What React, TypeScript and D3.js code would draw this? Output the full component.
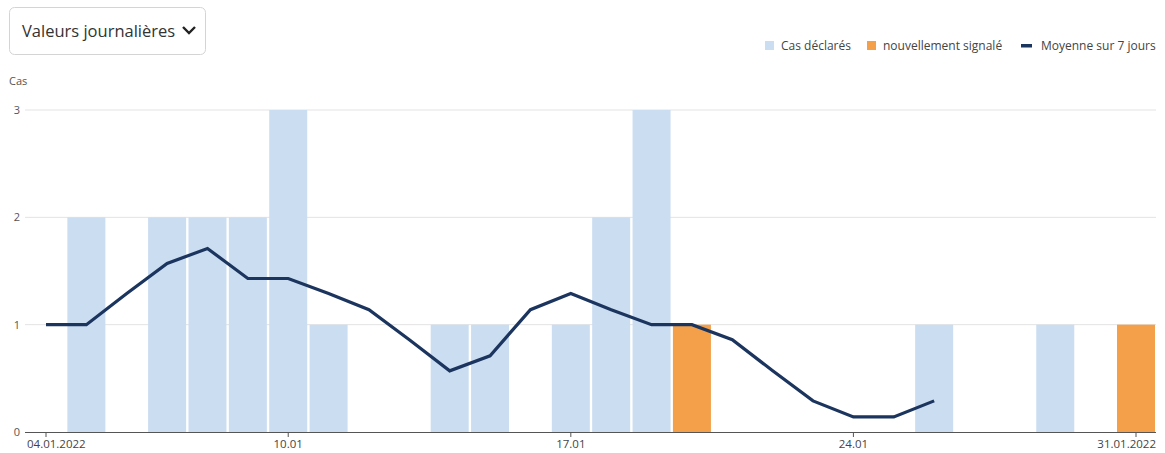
import React from "react";
import * as d3 from "d3";

const dates = ["04.01","05.01","06.01","07.01","08.01","09.01","10.01","11.01","12.01","13.01","14.01","15.01","16.01","17.01","18.01","19.01","20.01","21.01","22.01","23.01","24.01","25.01","26.01","27.01","28.01","29.01","30.01","31.01"];
const reported = [0,2,0,2,2,2,3,1,0,0,1,1,0,1,2,3,0,0,0,0,0,0,1,0,0,1,0,0];
const newlyReported = [0,0,0,0,0,0,0,0,0,0,0,0,0,0,0,0,1,0,0,0,0,0,0,0,0,0,0,1];
const avg7 = [1,1,1.29,1.57,1.71,1.43,1.43,1.29,1.14,0.86,0.57,0.71,1.14,1.29,1.14,1,1,0.86,0.57,0.29,0.14,0.14,0.29];
const xTicks = [{ i: 0, label: "04.01.2022" }, { i: 6, label: "10.01" }, { i: 13, label: "17.01" }, { i: 20, label: "24.01" }, { i: 27, label: "31.01.2022" }];
const yTicks = [0, 1, 2, 3];

const W = 1165, H = 453;
const FONT = "'Open Sans', 'Noto Sans', sans-serif";
const BLUE = "#cbddf1";
const ORANGE = "#f4a04b";
const NAVY = "#1c355e";

export default function App() {
  const x = d3.scaleLinear().domain([0, dates.length - 1]).range([46, 1136]);
  const y = d3.scaleLinear().domain([0, 3]).range([432, 110]);
  const bw = 38;
  const line = d3.line<number>().x((_, i) => x(i)).y(d => y(d));
  const last = dates.length - 1;

  return (
    <svg width={W} height={H} style={{ position: "absolute", left: 0, top: 0, fontFamily: FONT }}>
      <rect x={0} y={0} width={W} height={H} fill="#fff" />
      {/* dropdown */}
      <rect x={9.5} y={7.5} width={196} height={47} rx={5} fill="#fff" stroke="#d4d4d4" />
      <text x={22} y={37} fontSize={16.5} fill="#333">Valeurs journalières</text>
      <path d="M183 27 L189 33 L195 27" fill="none" stroke="#222" strokeWidth={2.4} />
      {/* legend */}
      <rect x={765} y={41} width={9} height={9} fill={BLUE} />
      <text x={781} y={50} fontSize={12} fill="#444">Cas déclarés</text>
      <rect x={867} y={41} width={9} height={9} fill={ORANGE} />
      <text x={883} y={50} fontSize={12} fill="#444">nouvellement signalé</text>
      <rect x={1021} y={44} width={11} height={3.5} fill={NAVY} />
      <text x={1041} y={50} fontSize={12} fill="#444">Moyenne sur 7 jours</text>
      {/* y label */}
      <text x={9} y={85} fontSize={11} fill="#555">Cas</text>
      {/* grid */}
      {yTicks.map(t => (
        <g key={t}>
          {t > 0 && <line x1={25} x2={1156} y1={y(t)} y2={y(t)} stroke="#e3e3e3" />}
          <text x={20} y={y(t) + 4} fontSize={11} fill="#555" textAnchor="end">{t}</text>
        </g>
      ))}
      {/* bars */}
      {reported.map((v, i) => v > 0 && (
        <rect key={"b" + i} x={x(i) - bw / 2} y={y(v)} width={bw} height={y(0) - y(v)} fill={BLUE} />
      ))}
      {newlyReported.map((v, i) => v > 0 && (
        <rect key={"o" + i} x={x(i) - bw / 2} y={y(v)} width={bw} height={y(0) - y(v)} fill={ORANGE} />
      ))}
      {/* line */}
      <path d={line(avg7) || ""} fill="none" stroke={NAVY} strokeWidth={3.2} strokeLinejoin="miter" />
      {/* x axis */}
      <line x1={25} x2={1156} y1={432.5} y2={432.5} stroke="#555" />
      {xTicks.map(t => {
        const anchor = t.i === 0 ? "start" : t.i === last ? "end" : "middle";
        const tx = t.i === 0 ? 27 : t.i === last ? 1156 : x(t.i);
        return (
          <g key={t.label}>
            <line x1={x(t.i)} x2={x(t.i)} y1={432} y2={437} stroke="#555" />
            <text x={tx} y={448} fontSize={11.5} fill="#444" textAnchor={anchor}>{t.label}</text>
          </g>
        );
      })}
    </svg>
  );
}
